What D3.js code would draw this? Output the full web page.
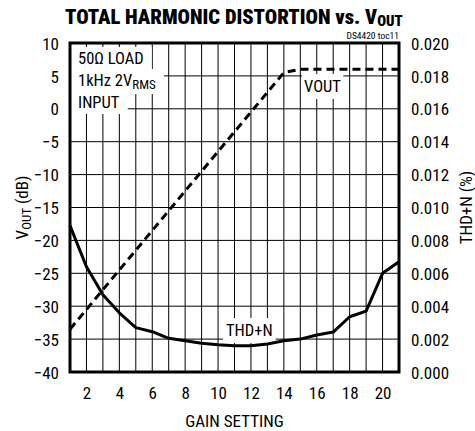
<!DOCTYPE html>
<html>
<head>
<meta charset="utf-8">
<script src="https://cdn.jsdelivr.net/npm/d3@7"></script>
<style>
  body { margin: 0; background: #fff; }
  svg text { font-family: "Liberation Sans Narrow", "Arial Narrow", "Roboto Condensed", Roboto, sans-serif; fill: #000; }
</style>
</head>
<body>
<div id="chart"></div>
<script>
// gain setting (x), VOUT in dB (left axis), THD+N in % (right axis)
const gain = [1, 2, 3, 4, 5, 6, 7, 8, 9, 10, 11, 12, 13, 14, 15, 16, 17, 18, 19, 20, 21];
const vout = [-33.5, -30.5, -27.5, -24.5, -21.5, -18.5, -15.5, -12.5, -9.5, -6.5, -3.5, -0.5, 2.5, 5.5, 6.0, 6.0, 6.0, 6.0, 6.0, 6.0, 6.0];
const thd = [0.0089, 0.0064, 0.0047, 0.0036, 0.0027, 0.00245, 0.00205, 0.0019, 0.00175, 0.00165, 0.0016, 0.0016, 0.0017, 0.0019, 0.002, 0.00225, 0.00243, 0.00336, 0.0037, 0.006, 0.0067];

const xTicks = [2, 4, 6, 8, 10, 12, 14, 16, 18, 20];
const yLeftTicks = [-40, -35, -30, -25, -20, -15, -10, -5, 0, 5, 10];
const yRightTicks = [0, 0.002, 0.004, 0.006, 0.008, 0.010, 0.012, 0.014, 0.016, 0.018, 0.020];

const width = 475;
const height = 431;
const margin = { top: 43, right: 76, bottom: 59, left: 70 };

const svg = d3.select("#chart").append("svg")
  .attr("width", width)
  .attr("height", height);

const x = d3.scaleLinear().domain([1, 21]).range([margin.left, width - margin.right]);
const yL = d3.scaleLinear().domain([-40, 10]).range([height - margin.bottom, margin.top]);
const yR = d3.scaleLinear().domain([0, 0.02]).range([height - margin.bottom, margin.top]);

// grid
const grid = svg.append("g");
grid.selectAll(".vg").data(gain.slice(1, -1)).enter().append("line")
  .attr("x1", d => x(d)).attr("x2", d => x(d))
  .attr("y1", yL(10)).attr("y2", yL(-40))
  .attr("stroke", "#000").attr("stroke-width", 1);
grid.selectAll(".hg").data(yLeftTicks.slice(1, -1)).enter().append("line")
  .attr("x1", x(1)).attr("x2", x(21))
  .attr("y1", d => yL(d)).attr("y2", d => yL(d))
  .attr("stroke", "#000").attr("stroke-width", 1);

// axes (labels only, no domain)
const axL = svg.append("g")
  .attr("transform", `translate(${margin.left},0)`)
  .call(d3.axisLeft(yL).tickValues(yLeftTicks).tickSize(0).tickPadding(11).tickFormat(d3.format("d")));
const axR = svg.append("g")
  .attr("transform", `translate(${width - margin.right},0)`)
  .call(d3.axisRight(yR).tickValues(yRightTicks).tickSize(0).tickPadding(12).tickFormat(d3.format(".3f")));
const axB = svg.append("g")
  .attr("transform", `translate(0,${height - margin.bottom})`)
  .call(d3.axisBottom(x).tickValues(xTicks).tickSize(0).tickPadding(15).tickFormat(d3.format("d")));
[axL, axR, axB].forEach(a => {
  a.select(".domain").remove();
  a.selectAll("text").style("font-size", "17px");
  a.attr("font-family", null).attr("font-size", null);
});
axL.selectAll("text").attr("dy", "0.36em");
axR.selectAll("text").attr("dy", "0.36em");
axB.selectAll("text").attr("dy", "0.71em");

// in-plot labels with white boxes
function boxedLabel(px, py, build, pad) {
  const g = svg.append("g");
  const t = g.append("text").attr("x", px).attr("y", py).style("font-size", "16.5px");
  build(t);
  const b = t.node().getBBox();
  g.insert("rect", "text")
    .attr("x", b.x - pad[0]).attr("y", b.y - pad[1])
    .attr("width", b.width + pad[0] * 2).attr("height", b.height + pad[1] * 2)
    .attr("fill", "#fff");
}
boxedLabel(78, 64, t => t.text("50Ω LOAD"), [8, 2]);
boxedLabel(78, 86, t => {
  t.append("tspan").text("1kHz 2V");
  t.append("tspan").attr("dy", 3).style("font-size", "13px").text("RMS");
}, [8, 2]);
boxedLabel(78, 108, t => t.text("INPUT"), [8, 2]);
boxedLabel(304, 92, t => t.text("VOUT"), [2, 3]);
boxedLabel(226, 336, t => t.text("THD+N"), [3, 3]);

// curves
svg.append("path")
  .datum(gain)
  .attr("fill", "none")
  .attr("stroke", "#000")
  .attr("stroke-width", 3)
  .attr("stroke-dasharray", "8,5")
  .attr("d", d3.line().x(d => x(d)).y((d, i) => yL(vout[i])));

svg.append("path")
  .datum(gain)
  .attr("fill", "none")
  .attr("stroke", "#000")
  .attr("stroke-width", 3)
  .attr("stroke-linejoin", "round")
  .attr("d", d3.line().x(d => x(d)).y((d, i) => yR(thd[i])));

// frame
svg.append("rect")
  .attr("x", x(1)).attr("y", yL(10))
  .attr("width", x(21) - x(1)).attr("height", yL(-40) - yL(10))
  .attr("fill", "none").attr("stroke", "#000").attr("stroke-width", 3);

// titles
const title = svg.append("text")
  .attr("x", 65).attr("y", 24)
  .style("font-size", "21px").style("font-weight", "900");
title.append("tspan").text("TOTAL HARMONIC DISTORTION vs. V");
title.append("tspan").attr("dy", 2).style("font-size", "15px").text("OUT");
const tw = title.node().getComputedTextLength();
title.attr("transform", `translate(65,0) scale(${338 / tw},1) translate(-65,0)`);

svg.append("text")
  .attr("x", x(21)).attr("y", 39)
  .attr("text-anchor", "end")
  .style("font-size", "9.5px")
  .text("DS4420 toc11");

svg.append("text")
  .attr("x", x(11)).attr("y", 427)
  .attr("text-anchor", "middle")
  .style("font-size", "17px")
  .text("GAIN SETTING");

const yLab = svg.append("text")
  .attr("transform", `translate(28,${yL(-15)}) rotate(-90)`)
  .attr("text-anchor", "middle")
  .style("font-size", "17px");
yLab.append("tspan").text("V");
yLab.append("tspan").attr("dy", 3).style("font-size", "13px").text("OUT");
yLab.append("tspan").attr("dy", -3).text(" (dB)");

svg.append("text")
  .attr("transform", `translate(472,${yL(-15)}) rotate(-90)`)
  .attr("text-anchor", "middle")
  .style("font-size", "17px")
  .text("THD+N (%)");
</script>
</body>
</html>
